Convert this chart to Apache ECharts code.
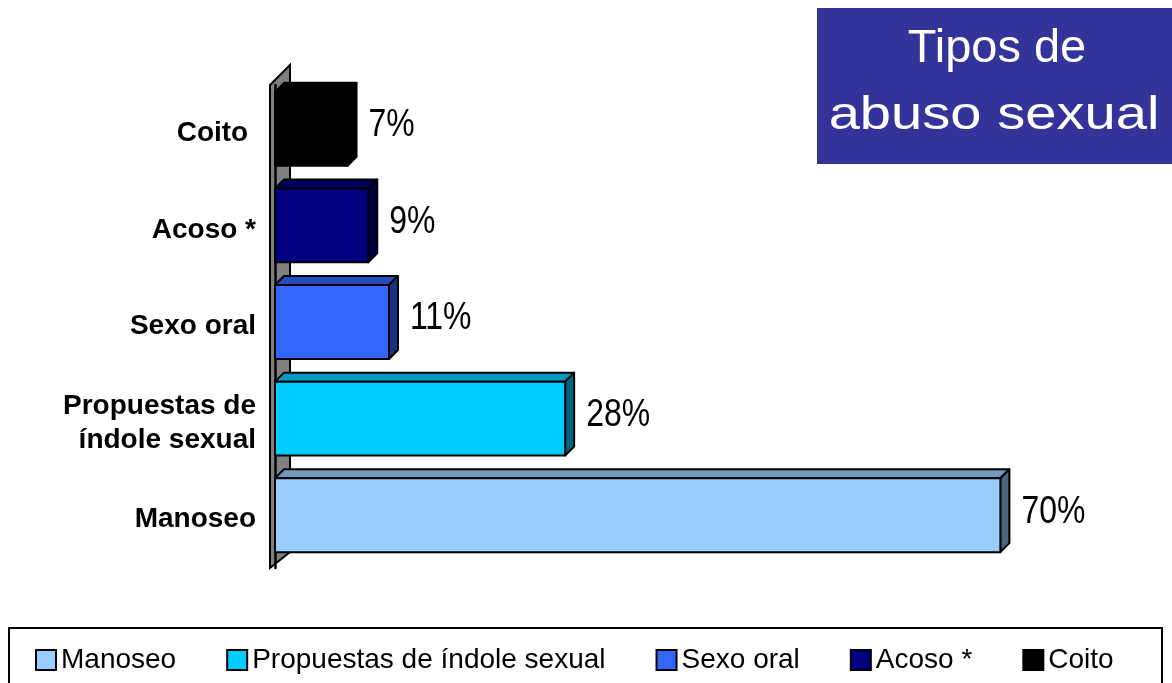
<!DOCTYPE html>
<html>
<head>
    <meta charset="UTF-8">
    <title>Tipos de abuso sexual</title>
    <script src="https://cdn.jsdelivr.net/npm/echarts@6.0.0/dist/echarts.min.js"></script>
    <style>
        html, body { margin: 0; padding: 0; background: #fff; }
        #chart { width: 1172px; height: 683px; }
    </style>
</head>
<body>
    <div id="chart"></div>
    <script>
        // datos
        var categories = ['Manoseo', 'Propuestas de\níndole sexual', 'Sexo oral', 'Acoso *', 'Coito '];
        var legendNames = ['Manoseo', 'Propuestas de índole sexual', 'Sexo oral', 'Acoso *', 'Coito'];
        var values = [70, 28, 11, 9, 7];
        var colors = ['#99CCFF', '#00CCFF', '#3366FF', '#000080', '#000000'];

        var arial = "'Liberation Sans', Arial, sans-serif";
        var chart = echarts.init(document.getElementById('chart'));

        // oscurecer un color para las caras superior y lateral
        function shade(hex, f) {
            var n = parseInt(hex.slice(1), 16);
            var r = Math.round(((n >> 16) & 255) * f);
            var g = Math.round(((n >> 8) & 255) * f);
            var b = Math.round((n & 255) * f);
            return 'rgb(' + r + ',' + g + ',' + b + ')';
        }

        function renderBar(params, api) {
            var val = api.value(0);
            var cat = api.value(1);
            var p0 = api.coord([0, cat]);
            var p1 = api.coord([val, cat]);
            var band = api.size([0, 1])[1];
            var d = 9;
            var h = band * 0.765;
            var x0 = p0[0], x1 = p1[0];
            var yt = p0[1] - h / 2 - d / 2;
            var yb = yt + h;
            var c = colors[params.seriesIndex];
            var line = { stroke: '#000', lineWidth: 2, lineJoin: 'round' };
            return {
                type: 'group',
                children: [
                    { type: 'polygon', shape: { points: [[x0, yt], [x1, yt], [x1 + d, yt - d], [x0 + d, yt - d]] },
                      style: Object.assign({ fill: shade(c, 0.75) }, line) },
                    { type: 'polygon', shape: { points: [[x1, yt], [x1 + d, yt - d], [x1 + d, yb - d], [x1, yb]] },
                      style: Object.assign({ fill: shade(c, 0.5) }, line) },
                    { type: 'rect', shape: { x: x0, y: yt, width: x1 - x0, height: h },
                      style: Object.assign({ fill: c }, line) },
                    { type: 'text', x: x1 + d + 12, y: yt + h / 2 - 3, scaleX: 0.84,
                      style: { text: val + '%', fill: '#000', font: '38px ' + arial,
                               textAlign: 'left', textVerticalAlign: 'middle' } }
                ]
            };
        }

        var series = [];
        for (var i = 0; i < values.length; i++) {
            series.push({
                type: 'custom',
                name: legendNames[i],
                itemStyle: { color: colors[i] },
                encode: { x: 0, y: 1 },
                renderItem: renderBar,
                data: [[values[i], i]]
            });
        }

        var option = {
            animation: false,
            grid: { left: 275, right: 68, top: 85, bottom: 115 },
            xAxis: { type: 'value', min: 0, max: 80, show: false },
            yAxis: {
                type: 'category',
                data: categories,
                offset: 5,
                axisLine: { lineStyle: { color: '#000', width: 2.5 } },
                axisTick: { length: 10, lineStyle: { color: '#000', width: 2 } },
                axisLabel: {
                    margin: 14, color: '#000', fontWeight: 'bold', fontSize: 28,
                    fontFamily: arial, lineHeight: 34, align: 'right'
                }
            },
            legend: {
                data: legendNames,
                left: 35, top: 643, padding: 0,
                itemGap: 50, itemWidth: 20, itemHeight: 20,
                icon: 'rect',
                itemStyle: { borderColor: '#000', borderWidth: 2 },
                textStyle: { fontSize: 28, fontFamily: arial, color: '#000', lineHeight: 34 }
            },
            graphic: [
                // pared gris del eje
                { type: 'polygon', z: -1,
                  shape: { points: [[270, 85], [290, 65], [290, 552], [270, 568]] },
                  style: { fill: '#808080', stroke: '#000', lineWidth: 2 } },
                // recuadro de la leyenda
                { type: 'rect', z: -1,
                  shape: { x: 9, y: 628, width: 1153, height: 80 },
                  style: { fill: 'none', stroke: '#000', lineWidth: 2 } },
                // titulo
                { type: 'rect', shape: { x: 817, y: 8, width: 355, height: 156 }, style: { fill: '#333399' } },
                { type: 'text', x: 997, y: 49,
                  style: { text: 'Tipos de', fill: '#fff', font: '47px ' + arial,
                           textAlign: 'center', textVerticalAlign: 'middle' } },
                { type: 'text', x: 994, y: 116, scaleX: 1.22,
                  style: { text: 'abuso sexual', fill: '#fff', font: '46px ' + arial,
                           textAlign: 'center', textVerticalAlign: 'middle' } }
            ],
            series: series
        };
        chart.setOption(option);
    </script>
</body>
</html>
